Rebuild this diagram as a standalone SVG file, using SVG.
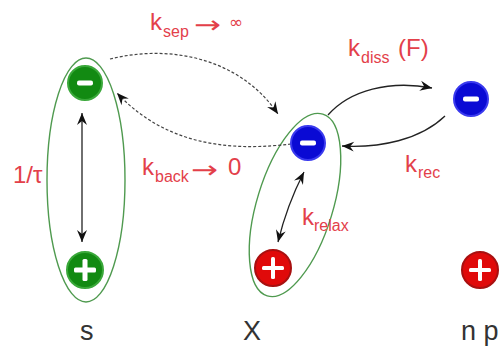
<svg xmlns="http://www.w3.org/2000/svg" width="500" height="348" viewBox="0 0 500 348">
<style>
.lbl{font-family:"Liberation Sans",Arial,sans-serif;font-size:24px;fill:#e3404a}
.sub{font-family:"Liberation Sans",Arial,sans-serif;font-size:16px;fill:#e3404a}
.sym{font-family:"DejaVu Sans",sans-serif;fill:#e3404a}
.name{font-family:"Liberation Sans",Arial,sans-serif;font-size:27px;fill:#333}
.ell{fill:none;stroke:#4f9a4f;stroke-width:1.4}
.solid{fill:none;stroke:#222;stroke-width:1.3;marker-end:url(#ah)}
.dash{fill:none;stroke:#444;stroke-width:1.2;stroke-dasharray:3 2;marker-end:url(#ah)}
.dbl{marker-start:url(#ah)}
.g{fill:#128a12;stroke:#3aa83a;stroke-width:2}
.b{fill:#0a0ad4;stroke:#3a3aee;stroke-width:2}
.r{fill:#e00a0a;stroke:#a81010;stroke-width:2}
.sign{fill:#fff}
</style>
<defs>
<marker id="ah" viewBox="-13 -6 14 12" refX="0" refY="0" markerWidth="14" markerHeight="12" markerUnits="userSpaceOnUse" orient="auto-start-reverse">
<path d="M0,0 L-12,-5 L-8,0 L-12,5 Z" fill="#111"/>
</marker>
</defs>

<g id="ellipse-s"><ellipse class="ell" cx="86" cy="180" rx="39" ry="122"/></g>
<g id="ellipse-x"><ellipse class="ell" cx="295" cy="205" rx="38" ry="95" transform="rotate(17 295 205)"/></g>

<g id="connectors">
<path class="solid dbl" d="M82,113 L82,242"/>
<path class="dash" d="M110,59 C170,44 240,58 278,114"/>
<path class="dash" d="M291,144 C240,150 170,150 117,93"/>
<path class="solid" d="M328,115 C350,90 390,80 432,88"/>
<path class="solid" d="M445,116 C420,140 380,148 342,146"/>
<path class="solid dbl" d="M304,172 Q287,205 278,242"/>
</g>

<g id="s-minus">
<circle class="g" cx="85" cy="83" r="17"/>
<rect class="sign" x="77" y="80.5" width="16" height="5" rx="2"/>
</g>
<g id="s-plus">
<circle class="g" cx="85" cy="270" r="18"/>
<rect class="sign" x="74" y="267.5" width="22" height="5" rx="1.5"/>
<rect class="sign" x="82.5" y="259" width="5" height="22" rx="1.5"/>
</g>
<g id="x-minus">
<circle class="b" cx="308" cy="143" r="17"/>
<rect class="sign" x="300" y="140.5" width="16" height="5" rx="2"/>
</g>
<g id="x-plus">
<circle class="r" cx="273" cy="268" r="18"/>
<rect class="sign" x="262" y="266" width="22" height="4" rx="1.5"/>
<rect class="sign" x="271" y="257" width="4" height="22" rx="1.5"/>
</g>
<g id="np-minus">
<circle class="b" cx="471" cy="99" r="17"/>
<rect class="sign" x="463" y="96.5" width="16" height="5" rx="2"/>
</g>
<g id="np-plus">
<circle class="r" cx="480" cy="270" r="18"/>
<rect class="sign" x="469" y="268" width="22" height="4" rx="1.5"/>
<rect class="sign" x="478" y="259" width="4" height="22" rx="1.5"/>
</g>

<g id="labels">
<text class="lbl" x="150" y="30">k</text><text class="sub" x="163" y="37">sep</text>
<text class="sym" x="194" y="33" font-size="24" textLength="27" lengthAdjust="spacingAndGlyphs">→</text>
<text class="sym" x="229" y="28" font-size="17">∞</text>

<text class="lbl" x="142" y="175">k</text><text class="sub" x="155" y="182">back</text>
<text class="sym" x="191" y="178" font-size="24" textLength="27" lengthAdjust="spacingAndGlyphs">→</text>
<text class="lbl" x="228" y="175">0</text>

<text class="lbl" x="13" y="183">1/τ</text>

<text class="lbl" x="348" y="56">k</text><text class="sub" x="361" y="63">diss</text>
<text class="lbl" x="398" y="56" font-size="25">(F)</text>

<text class="lbl" x="405" y="172">k</text><text class="sub" x="418" y="178">rec</text>
<text class="lbl" x="302" y="225">k</text><text class="sub" x="314" y="231">relax</text>

<text class="name" x="80" y="340">s</text>
<text class="name" x="243" y="340">X</text>
<text class="name" x="461" y="340">n p</text>
</g>
</svg>
